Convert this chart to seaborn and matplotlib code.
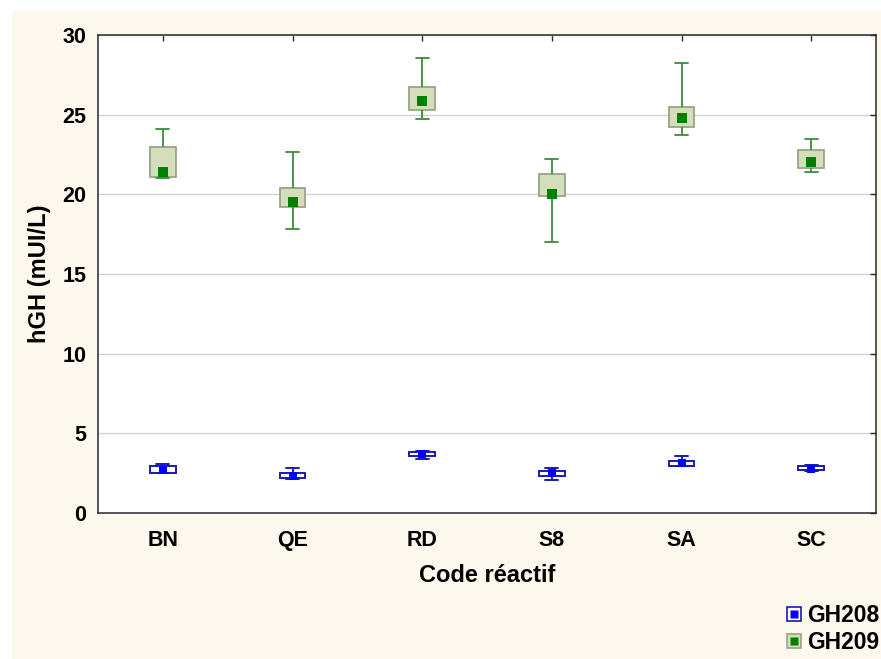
import matplotlib
matplotlib.use("Agg")
import matplotlib.pyplot as plt
from matplotlib.lines import Line2D
from matplotlib.patches import Rectangle
import pandas as pd
import seaborn as sns

# Reagent codes on the x axis
codes = ["BN", "QE", "RD", "S8", "SA", "SC"]

# GH208: five-number summaries per reagent (min, Q1, median, Q3, max), mUI/L
gh208_min = [2.48, 2.15, 3.40, 2.07, 2.95, 2.62]
gh208_q1 = [2.53, 2.22, 3.55, 2.34, 2.97, 2.68]
gh208_med = [2.70, 2.34, 3.68, 2.49, 3.12, 2.76]
gh208_q3 = [2.97, 2.49, 3.80, 2.64, 3.28, 2.97]
gh208_max = [3.05, 2.84, 3.90, 2.80, 3.58, 3.00]

# GH209: five-number summaries per reagent (min, Q1, median, Q3, max), mUI/L
gh209_min = [21.00, 17.83, 24.71, 17.03, 23.73, 21.43]
gh209_q1 = [21.07, 19.23, 25.30, 19.92, 24.23, 21.68]
gh209_med = [21.40, 19.50, 25.86, 20.03, 24.77, 22.05]
gh209_q3 = [23.00, 20.38, 26.72, 21.26, 25.49, 22.77]
gh209_max = [24.10, 22.66, 28.56, 22.24, 28.23, 23.48]

series_names = ["GH208", "GH209"]
y_ticks = [0, 5, 10, 15, 20, 25, 30]


def long_frame(mins, q1, med, q3, maxs):
    """Five values per reagent; their quartiles reproduce the summary exactly."""
    rows = []
    for code, *vals in zip(codes, mins, q1, med, q3, maxs):
        rows.extend((code, v) for v in vals)
    return pd.DataFrame(rows, columns=["code", "value"])


df208 = long_frame(gh208_min, gh208_q1, gh208_med, gh208_q3, gh208_max)
df209 = long_frame(gh209_min, gh209_q1, gh209_med, gh209_q3, gh209_max)

sns.set_theme(style="white")
plt.rcParams["font.family"] = ["Liberation Sans", "DejaVu Sans"]
plt.rcParams["font.weight"] = "bold"
plt.rcParams["axes.labelweight"] = "bold"
plt.rcParams["text.color"] = "black"
plt.rcParams["axes.labelcolor"] = "black"
plt.rcParams["xtick.color"] = "black"
plt.rcParams["ytick.color"] = "black"

cream = "#FCF8EE"
blue_edge = "#1A1AB0"
blue_mark = "#0000FF"
green_fill = "#D5DEBB"
green_edge = "#99A487"
green_whisk = "#3A8C3A"
green_mark = "#008000"

fig = plt.figure(figsize=(8.81, 6.59), dpi=100, facecolor="white")
fig.patches.append(Rectangle((12 / 881, 0), 1, 1 - 10 / 659, transform=fig.transFigure,
                             facecolor=cream, edgecolor="none", zorder=-10))
ax = fig.add_axes([98 / 881, 1 - 513 / 659, 778 / 881, 478 / 659])
ax.set_facecolor("white")

common = dict(x="code", y="value", order=codes, whis=(0, 100), width=0.2,
              showfliers=False, saturation=1, ax=ax,
              medianprops=dict(visible=False))

sns.boxplot(data=df209, color=green_fill, linecolor=green_edge, linewidth=1.3,
            boxprops=dict(facecolor=green_fill, edgecolor=green_edge, linewidth=1.3),
            whiskerprops=dict(color=green_whisk, linewidth=1.3),
            capprops=dict(color=green_whisk, linewidth=1.3), **common)
sns.boxplot(data=df208, color="white", linecolor=blue_edge, linewidth=1.4,
            boxprops=dict(facecolor="white", edgecolor=blue_edge, linewidth=1.4),
            whiskerprops=dict(color=blue_edge, linewidth=1.4),
            capprops=dict(color=blue_edge, linewidth=1.4), **common)

# Medians as filled squares
sns.stripplot(x=codes, y=gh209_med, order=codes, jitter=False, marker="s", size=6.8,
              color=green_mark, linewidth=0, ax=ax, zorder=5)
sns.stripplot(x=codes, y=gh208_med, order=codes, jitter=False, marker="s", size=6.0,
              color=blue_mark, linewidth=0, ax=ax, zorder=5)

ax.set_xlim(-0.5, len(codes) - 0.5)
ax.set_ylim(0, 30)
ax.set_yticks(y_ticks)
ax.yaxis.grid(True, color="#D2D2D2", linewidth=1)
ax.set_axisbelow(True)
for s in ax.spines.values():
    s.set_color("#2A2A2A")
    s.set_linewidth(1.1)
ax.tick_params(axis="both", direction="in", length=4, width=1, color="#2A2A2A",
               top=True, right=True, labelsize=15.5, labelcolor="black")
ax.tick_params(axis="x", pad=12)
ax.tick_params(axis="y", pad=8.5)

ax.set_xlabel("Code réactif", fontsize=17, fontweight="bold", va="center")
ax.set_ylabel("hGH (mUI/L)", fontsize=17, fontweight="bold", va="center")
ax.xaxis.set_label_coords(0.5, (513 - 576) / 478)
ax.yaxis.set_label_coords((40 - 98) / 778, 0.5)

handles = [
    (Line2D([], [], marker="s", markersize=9.6, markerfacecolor="white",
            markeredgecolor=blue_edge, markeredgewidth=1.2, linestyle=""),
     Line2D([], [], marker="s", markersize=6.0, markerfacecolor=blue_mark,
            markeredgecolor="none", linestyle="")),
    (Line2D([], [], marker="s", markersize=9.6, markerfacecolor=green_fill,
            markeredgecolor=green_edge, markeredgewidth=1.2, linestyle=""),
     Line2D([], [], marker="s", markersize=6.0, markerfacecolor=green_mark,
            markeredgecolor="none", linestyle="")),
]
fig.legend(handles, series_names, loc="lower right", bbox_to_anchor=(0.998, 0.008),
           frameon=False, fontsize=16.5, handlelength=0.6, handletextpad=0.25,
           labelspacing=0.15, borderpad=0.0, borderaxespad=0.0)

fig.savefig("out.png", dpi=100, facecolor="white")
